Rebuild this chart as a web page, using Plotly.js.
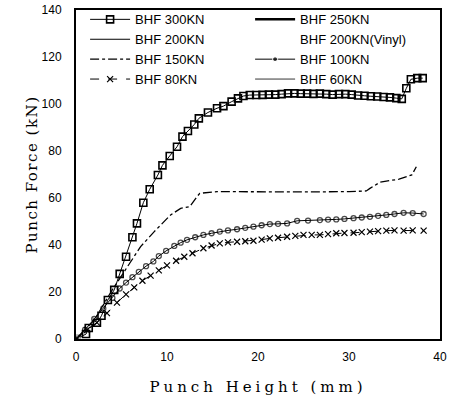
<!DOCTYPE html>
<html><head><meta charset="utf-8">
<script src="https://cdn.plot.ly/plotly-3.0.1.min.js"></script>
<style>html,body{margin:0;padding:0;background:#fff}#chart{width:454px;height:404px}</style>
</head><body><div id="chart"></div>
<script>
// Series names (legend order)
var names = ['BHF 300KN','BHF 250KN','BHF 200KN','BHF 200KN(Vinyl)','BHF 150KN','BHF 100KN','BHF 80KN','BHF 60KN'];

// BHF 300KN (open squares)
var x300 = [0, 1.1, 1.4, 2.3, 2.8, 3.5, 4.2, 4.8, 5.5, 6.2, 6.7, 7.4, 8.1, 9.0, 9.5, 10.3, 11.1, 11.7, 12.3, 13.0, 13.5, 14.5, 15.5, 16.2, 17.1, 17.8, 18.4, 19.1, 19.8, 20.5, 21.2, 21.9, 22.6, 23.3, 24.0, 24.7, 25.4, 26.1, 26.8, 27.5, 28.2, 28.9, 29.6, 30.3, 31.0, 31.7, 32.4, 33.1, 33.8, 34.5, 35.2, 35.8, 36.3, 36.8, 37.5, 38.1];
var y300 = [0, 2.1, 4.7, 6.9, 9.9, 16.6, 20.9, 27.7, 35.0, 43.3, 49.2, 58.0, 63.7, 69.8, 73.9, 77.9, 81.8, 86.1, 88.5, 91.3, 93.9, 96.4, 98.2, 99.1, 101.0, 102.4, 103.4, 103.8, 103.8, 103.9, 104.0, 104.0, 104.2, 104.5, 104.5, 104.4, 104.4, 104.3, 104.4, 104.2, 104.0, 104.2, 104.2, 104.0, 103.6, 103.5, 103.3, 103.2, 103.0, 102.8, 102.5, 102.2, 106.7, 110.5, 111.0, 111.0];

// BHF 150KN (dash-dot line)
var x150 = [0, 2.0, 4.0, 6.0, 7.1, 8.6, 10.4, 11.5, 12.5, 13.3, 13.6, 15.5, 20.0, 25.0, 30.0, 31.9, 32.3, 33.4, 34.1, 35.5, 36.9, 37.4];
var y150 = [0, 8.0, 21.0, 32.9, 39.3, 45.7, 52.8, 55.6, 56.3, 60.6, 62.0, 62.7, 62.8, 62.6, 62.7, 63.0, 64.1, 66.7, 67.2, 68.0, 69.8, 73.3];

// BHF 100KN (small circles)
var x100 = [0, 1.0, 2.0, 3.0, 4.0, 4.8, 5.5, 6.2, 6.9, 7.7, 8.5, 9.1, 9.9, 10.8, 11.5, 12.2, 13.1, 14.0, 14.9, 15.8, 16.7, 17.7, 18.6, 19.5, 20.4, 21.3, 22.2, 23.2, 24.3, 25.5, 26.8, 27.7, 28.6, 29.5, 30.5, 31.4, 32.3, 33.2, 34.1, 35.0, 36.0, 37.0, 38.2];
var y100 = [0, 4.0, 8.5, 13.0, 17.5, 21.5, 24.0, 26.3, 28.6, 31.0, 33.0, 35.3, 37.5, 39.6, 41.0, 42.2, 43.3, 44.3, 45.0, 45.7, 46.2, 46.7, 47.3, 47.8, 48.4, 48.9, 49.0, 49.2, 50.3, 50.4, 50.6, 50.8, 50.9, 51.1, 51.4, 51.7, 52.0, 52.4, 52.8, 53.2, 53.7, 53.6, 53.2];

// BHF 80KN (x markers, dashed)
var x80 = [0, 1.2, 2.3, 3.4, 4.5, 5.5, 6.4, 7.3, 8.2, 9.1, 10.0, 11.0, 11.9, 12.8, 14.0, 14.9, 15.8, 16.7, 17.7, 18.6, 19.5, 20.4, 21.3, 22.2, 23.2, 24.1, 25.0, 25.9, 26.8, 27.7, 28.6, 29.5, 30.5, 31.4, 32.3, 33.2, 34.1, 35.0, 36.0, 37.0, 38.2];
var y80 = [0, 3.8, 7.0, 11.0, 15.5, 19.0, 22.0, 24.8, 27.0, 29.2, 31.3, 33.3, 35.0, 36.5, 38.6, 39.8, 40.7, 41.1, 41.4, 41.6, 41.8, 42.3, 42.8, 43.1, 43.5, 43.9, 44.3, 44.3, 44.3, 44.6, 45.0, 45.1, 45.2, 45.5, 45.7, 45.9, 46.1, 46.2, 46.1, 46.2, 46.1];

// Series not separately visible in the figure: only their common start point
var xStart = [0];
var yStart = [0];

// Axis ticks
var xTicks = [0, 10, 20, 30, 40];
var yTicks = [0, 20, 40, 60, 80, 100, 120, 140];

var black = '#000';
// 100KN: filled dot at the first point (also the legend symbol), open circles after
var sym100 = x100.map(function (v, i) { return i === 0 ? 'circle' : 'circle-open'; });
var size100 = x100.map(function (v, i) { return i === 0 ? 7 : 5; });

var traces = [
  {x: x300, y: y300, name: names[0], mode: 'lines+markers', line: {color: black, width: 1},
   marker: {symbol: 'square-open', size: 7, color: black, line: {width: 1.6}}},
  {x: xStart, y: yStart, name: names[1], mode: 'lines', line: {color: black, width: 2.5}},
  {x: xStart, y: yStart, name: names[2], mode: 'lines', line: {color: black, width: 1}},
  {x: xStart, y: yStart, name: names[3], mode: 'lines', line: {color: 'rgba(0,0,0,0)', width: 1}},
  {x: x150, y: y150, name: names[4], mode: 'lines', line: {color: black, width: 1.3, dash: 'dashdot'}},
  {x: x100, y: y100, name: names[5], mode: 'lines+markers', line: {color: black, width: 1},
   marker: {symbol: sym100, size: size100, color: black, line: {width: 1.3}}},
  {x: x80, y: y80, name: names[6], mode: 'lines+markers', line: {color: black, width: 1, dash: 'dash'},
   marker: {symbol: 'x-thin', size: 6, color: black, line: {width: 1.2, color: black}}},
  {x: xStart, y: yStart, name: names[7], mode: 'lines', line: {color: black, width: 0.8}}
];

var layout = {
  width: 454, height: 404,
  margin: {l: 76, r: 14, t: 10, b: 65, autoexpand: false},
  paper_bgcolor: '#fff', plot_bgcolor: '#fff',
  font: {family: 'Liberation Sans, Arial, sans-serif', color: black, size: 12},
  showlegend: true,
  legend: {orientation: 'h', x: 0.025, y: 1.017, xanchor: 'left', yanchor: 'top',
    bgcolor: 'rgba(0,0,0,0)', font: {size: 13, family: 'Liberation Sans, Arial, sans-serif'},
    entrywidth: 110, entrywidthmode: 'pixels', itemwidth: 40, tracegroupgap: 0},
  xaxis: {range: [0, 40], tickvals: xTicks, ticks: '', showgrid: false, zeroline: false,
    showline: true, linecolor: black, linewidth: 2, mirror: true, automargin: false,
    tickfont: {size: 12, family: 'Liberation Sans, Arial, sans-serif'}, ticklabelstandoff: 6,
    title: {text: '<span style="letter-spacing:4px">Punch Height (mm)</span>', standoff: 18,
      font: {size: 15, family: 'DejaVu Serif, Liberation Serif, serif'}}},
  yaxis: {range: [0, 140], tickvals: yTicks, ticks: '', showgrid: false, zeroline: false,
    showline: true, linecolor: black, linewidth: 2, mirror: true, automargin: false,
    tickfont: {size: 12, family: 'Liberation Sans, Arial, sans-serif'}, ticklabelstandoff: 10,
    title: {text: '<span style="letter-spacing:1.5px">Punch Force (kN)</span>', standoff: 0,
      font: {size: 15, family: 'DejaVu Serif, Liberation Serif, serif'}}}
};

Plotly.newPlot('chart', traces, layout, {staticPlot: true, displayModeBar: false});
</script></body></html>
